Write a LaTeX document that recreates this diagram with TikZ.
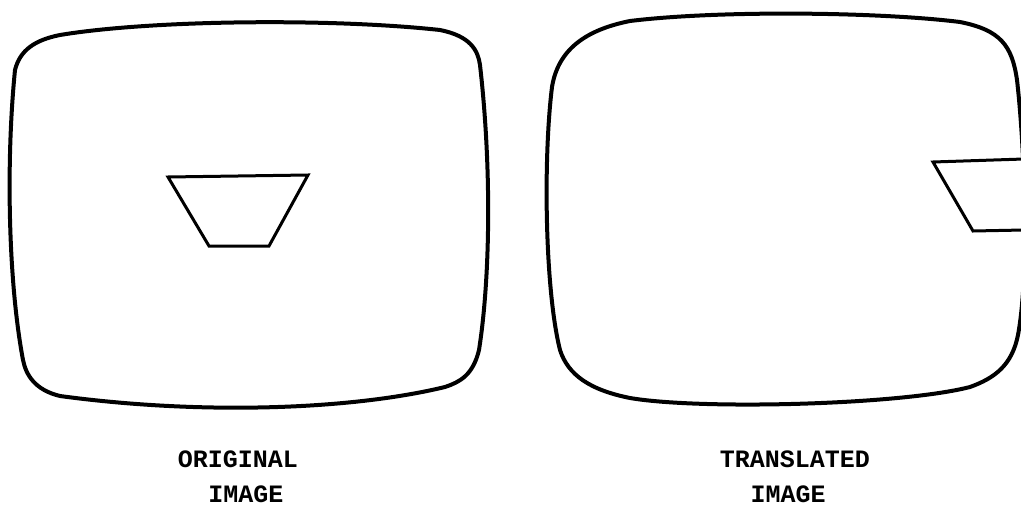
\documentclass[tikz,border=0pt]{standalone}
\usepackage{fontspec}
\newfontfamily\tw{Liberation Mono}
\tikzset{
  screen/.style={line width=4pt, line join=round, line cap=round},
  trapline/.style={line width=3pt, line join=miter},
  caption/.style={font=\tw\bfseries\fontsize{25}{30}\selectfont, anchor=base, inner sep=0pt}
}
\begin{document}
\begin{tikzpicture}[x=1pt,y=-1pt]
\useasboundingbox (0,0) rectangle (1021,506);
% left screen
\draw[screen] (60,35) .. controls (150,20) and (330,18) .. (440,30)
  .. controls (470,36) and (478,50) .. (480,65)
  .. controls (492,170) and (490,280) .. (479,350)
  .. controls (473,375) and (460,382) .. (445,387)
  .. controls (350,410) and (200,415) .. (60,396)
  .. controls (35,390) and (26,375) .. (23,360)
  .. controls (8,280) and (6,160) .. (15,70)
  .. controls (20,50) and (35,40) .. (60,35) -- cycle;
% right screen
\draw[screen] (630,21) .. controls (720,10) and (880,12) .. (960,22)
  .. controls (1000,30) and (1012,45) .. (1017,80)
  .. controls (1024,140) and (1030,270) .. (1018,335)
  .. controls (1012,365) and (995,378) .. (970,387)
  .. controls (900,405) and (700,410) .. (630,398)
  .. controls (590,390) and (568,375) .. (560,350)
  .. controls (545,290) and (543,160) .. (552,87)
  .. controls (558,50) and (585,30) .. (630,21) -- cycle;
% trapezoids
\draw[trapline] (168,177) -- (308,175) -- (269,246) -- (209,246) -- cycle;
\draw[trapline] (1024,159) -- (933,162) -- (973,231) -- (1024,230);
% captions
\node[caption] (orig) at (238,467) {ORIGINAL};
\node[caption] (origimg) at (246,502) {IMAGE};
\node[caption] (trans) at (795,467) {TRANSLATED};
\node[caption] (transimg) at (788,502) {IMAGE};
\end{tikzpicture}
\end{document}
